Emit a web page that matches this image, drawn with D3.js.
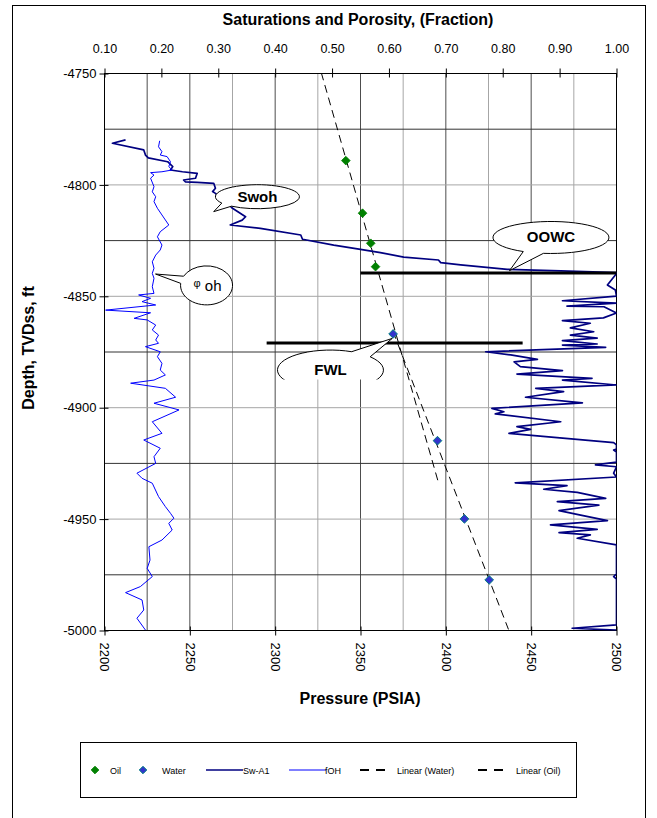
<!DOCTYPE html>
<html>
<head>
<meta charset="utf-8">
<script src="https://cdn.jsdelivr.net/npm/d3@7"></script>
<style>
  body { margin: 0; background: #fff; }
  text { font-family: "Liberation Sans", Arial, sans-serif; }
</style>
</head>
<body>
<svg id="chart" width="657" height="818"></svg>
<script>
// ---- data ----
var oilPressure = [2341.4, 2351.2, 2356.0, 2358.8];
var oilDepth    = [-4789.1, -4812.7, -4826.2, -4836.7];
var waterPressure = [2369.1, 2395.1, 2410.9, 2425.4];
var waterDepth    = [-4866.9, -4914.8, -4949.9, -4977.3];

// pressure span over which Excel drew each linear trendline
var oilTrendRange   = [2327, 2395.3];
var waterTrendRange = [2369, 2436.7];

// Sw-A1 log (fraction, top axis)
var swDepth = [-4779.8,-4781.3,-4784.3,-4786.6,-4787.9,-4789.6,-4791.8,-4793.3,-4794.1,-4794.8,-4797.0,-4797.8,-4798.6,-4798.9,-4799.3,-4801.5,-4803.0,-4803.8,-4805.9,-4808.6,-4810.5,-4814.3,-4815.8,-4818.0,-4819.5,-4822.5,-4824.4,-4827.0,-4828.9,-4830.4,-4832.4,-4833.7,-4834.9,-4835.9,-4837.9,-4838.6,-4839.4,
  -4840.4,-4844.9,-4847.2,-4849.9,-4852.0,-4853.1,-4854.4,-4854.7,-4857.5,-4859.7,-4860.9,-4862.1,-4864.2,-4865.9,-4867.4,-4868.8,-4869.9,-4871.4,-4871.9,-4872.9,-4874.9,-4876.3,-4878.3,-4879.4,-4881.6,-4883.4,-4884.9,-4886.8,-4887.6,-4889.8,-4891.3,-4892.8,-4895.3,-4897.8,-4900.3,-4901.8,-4902.8,-4906.3,-4908.5,-4909.7,-4911.5,-4915.7,-4916.7,-4918.5,-4919.0,-4919.9,-4924.4,-4925.7,-4926.5,-4929.4,-4931.1,-4933.7,-4935.0,-4936.6,-4938.0,-4940.7,-4942.2,-4943.7,-4946.2,-4948.2,-4950.7,-4952.6,-4954.6,-4956.1,-4957.1,-4958.6,-4961.6,-4974.6,-4975.8,-4976.9,-4997.5,-4999.0,-4999.8];
var swValue = [0.137,0.114,0.169,0.172,0.177,0.211,0.220,0.216,0.237,0.263,0.260,0.239,0.242,0.263,0.292,0.295,0.290,0.295,0.304,0.318,0.325,0.348,0.342,0.321,0.374,0.445,0.448,0.503,0.550,0.585,0.626,0.687,0.691,0.726,0.808,0.902,1.0,
  0.998,0.984,0.998,1.0,0.905,1.0,0.913,0.978,1.0,0.977,0.905,0.954,0.919,0.960,0.919,0.966,0.905,0.966,0.905,0.981,0.770,0.814,0.861,0.820,0.831,0.905,0.825,0.957,0.905,1.0,0.858,0.907,0.840,0.940,0.781,0.802,0.787,0.902,0.825,0.849,0.811,0.995,1.0,1.0,0.995,1.0,1.0,0.963,1.0,0.995,1.0,0.822,0.913,0.872,0.931,0.981,0.896,0.969,0.899,0.937,0.984,0.884,0.966,0.899,0.954,0.931,1.0,1.0,0.995,1.0,1.0,0.922,1.0];

// porosity log fOH (fraction, top axis)
var phiDepth = [-4780.2,-4782.9,-4785.1,-4786.6,-4787.3,-4789.6,-4791.8,-4793.3,-4794.1,-4794.5,-4795.6,-4797.0,-4800.8,-4803.1,-4805.3,-4807.5,-4810.5,-4813.5,-4818.0,-4821.0,-4823.3,-4827.0,-4829.2,-4831.5,-4834.5,-4837.4,-4839.7,-4841.9,-4845.7,-4848.7,-4849.4,-4850.9,-4852.4,-4853.9,-4856.2,-4857.4,-4859.9,-4860.6,-4862.9,-4865.1,-4867.4,-4869.6,-4871.1,-4872.6,-4874.9,-4877.1,-4880.1,-4883.1,-4885.3,-4887.6,-4889.0,-4891.3,-4895.3,-4898.0,-4901.0,-4906.3,-4911.5,-4914.5,-4918.2,-4922.0,-4925.0,-4929.4,-4931.7,-4933.9,-4939.9,-4944.4,-4947.4,-4949.6,-4951.9,-4954.9,-4959.4,-4962.4,-4968.4,-4972.1,-4975.8,-4980.3,-4983.0,-4986.3,-4990.8,-4994.5,-4999.8];
var phiValue = [0.197,0.195,0.201,0.198,0.210,0.216,0.213,0.219,0.201,0.181,0.187,0.181,0.187,0.184,0.190,0.187,0.193,0.201,0.213,0.198,0.193,0.201,0.198,0.190,0.184,0.187,0.184,0.187,0.184,0.187,0.160,0.181,0.166,0.190,0.102,0.181,0.152,0.175,0.190,0.184,0.195,0.190,0.195,0.172,0.198,0.193,0.201,0.198,0.207,0.187,0.146,0.207,0.225,0.187,0.231,0.184,0.201,0.169,0.198,0.187,0.190,0.157,0.166,0.184,0.195,0.207,0.216,0.222,0.213,0.219,0.201,0.178,0.180,0.175,0.184,0.163,0.137,0.166,0.169,0.157,0.172];

// fluid contacts (depth, pressure span of the drawn bar)
var contactNames  = ["OOWC", "FWL"];
var contactDepth  = [-4839.5, -4871];
var contactRanges = [[2350, 2500], [2295, 2445]];

// callout anchors: centre and pointer tip (pressure, depth)
var calloutLabels  = ["Swoh", "oh", "OOWC", "FWL"];
var calloutCentre  = [[2289.6, -4805.3], [2259.8, -4845.1], [2461.6, -4823.6], [2332.4, -4883.1]];
var calloutTip     = [[2264.0, -4812.0], [2229.9, -4840.0], [2437.3, -4838.5], [2368.6, -4868.9]];

// axes
var depthTicks    = [-4750, -4800, -4850, -4900, -4950, -5000];
var pressureTicks = [2200, 2250, 2300, 2350, 2400, 2450, 2500];
var fractionTicks = [0.10, 0.20, 0.30, 0.40, 0.50, 0.60, 0.70, 0.80, 0.90, 1.00];
var pressureGridMajor = [2225, 2250, 2300, 2350, 2400, 2450];
var pressureGridMinor = [2275, 2325, 2375, 2425, 2475];
var depthGridDark  = [-4775, -4825, -4875, -4925, -4975];
var depthGridLight = [-4800, -4850, -4900, -4950];

var legendLabels = ["Oil", "Water", "Sw-A1", "fOH", "Linear (Water)", "Linear (Oil)"];

// ---- drawing ----
var svg = d3.select("#chart");
var pL = 104.5, pR = 616.5, pT = 73.5, pB = 630.5;

var xP = d3.scaleLinear().domain([2200, 2500]).range([pL, pR]);
var xF = d3.scaleLinear().domain([0.1, 1.0]).range([pL, pR]);
var y  = d3.scaleLinear().domain([-4750, -5000]).range([pT, pB]);

svg.append("rect").attr("width", 657).attr("height", 818).attr("fill", "#fff");
// outer chart frame
svg.append("rect").attr("x", 12.5).attr("y", 5.5).attr("width", 633).attr("height", 830)
  .attr("fill", "none").attr("stroke", "#000");

svg.append("clipPath").attr("id", "plotclip").append("rect")
  .attr("x", pL).attr("y", pT).attr("width", pR - pL).attr("height", pB - pT);

var grid = svg.append("g");
grid.selectAll(".vmin").data(pressureGridMinor).enter().append("line")
  .attr("x1", d => xP(d)).attr("x2", d => xP(d)).attr("y1", pT).attr("y2", pB)
  .attr("stroke", "#a6a6a6");
grid.selectAll(".vmaj").data(pressureGridMajor).enter().append("line")
  .attr("x1", d => xP(d)).attr("x2", d => xP(d)).attr("y1", pT).attr("y2", pB)
  .attr("stroke", "#4d4d4d");
grid.selectAll(".hl").data(depthGridLight).enter().append("line")
  .attr("x1", pL).attr("x2", pR).attr("y1", d => y(d)).attr("y2", d => y(d))
  .attr("stroke", "#a6a6a6");
grid.selectAll(".hd").data(depthGridDark).enter().append("line")
  .attr("x1", pL).attr("x2", pR).attr("y1", d => y(d)).attr("y2", d => y(d))
  .attr("stroke", "#333");

svg.append("rect").attr("x", pL).attr("y", pT).attr("width", pR - pL).attr("height", pB - pT)
  .attr("fill", "none").attr("stroke", "#000");

var plot = svg.append("g").attr("clip-path", "url(#plotclip)");

// linear trendlines (least squares of depth on pressure)
function fit(xs, ys) {
  var mx = d3.mean(xs), my = d3.mean(ys);
  var sxy = d3.sum(xs, (v, i) => (v - mx) * (ys[i] - my));
  var sxx = d3.sum(xs, v => (v - mx) * (v - mx));
  var b = sxy / sxx;
  return p => my + b * (p - mx);
}
var trends = [[oilPressure, oilDepth, oilTrendRange], [waterPressure, waterDepth, waterTrendRange]];
trends.forEach(function (t) {
  var f = fit(t[0], t[1]);
  plot.append("line")
    .attr("x1", xP(t[2][0])).attr("y1", y(f(t[2][0])))
    .attr("x2", xP(t[2][1])).attr("y2", y(f(t[2][1])))
    .attr("stroke", "#000").attr("stroke-width", 1).attr("stroke-dasharray", "8,5");
});

var swData = swDepth.map((d, i) => ({depth: d, v: swValue[i]}));
var phiData = phiDepth.map((d, i) => ({depth: d, v: phiValue[i]}));
var logLine = d3.line().x(d => xF(d.v)).y(d => y(d.depth));

plot.append("path").datum(swData).attr("d", logLine)
  .attr("fill", "none").attr("stroke", "#000080").attr("stroke-width", 1.7).attr("stroke-linejoin", "round");
plot.append("path").datum(phiData).attr("d", logLine)
  .attr("fill", "none").attr("stroke", "#0000ff").attr("stroke-width", 1);

// contact bars
contactNames.forEach(function (n, i) {
  plot.append("line")
    .attr("x1", xP(contactRanges[i][0])).attr("x2", xP(contactRanges[i][1]))
    .attr("y1", y(contactDepth[i])).attr("y2", y(contactDepth[i]))
    .attr("stroke", "#000").attr("stroke-width", 3);
});

// pressure points
var diamond = d3.symbol().type(d3.symbolDiamond2 || d3.symbolSquare).size(48);
plot.selectAll(".oil").data(oilPressure).enter().append("path")
  .attr("d", diamond)
  .attr("transform", (d, i) => "translate(" + xP(d) + "," + y(oilDepth[i]) + ")")
  .attr("fill", "#008000").attr("stroke", "#008000").attr("stroke-width", 0.8);
plot.selectAll(".water").data(waterPressure).enter().append("path")
  .attr("d", diamond)
  .attr("transform", (d, i) => "translate(" + xP(d) + "," + y(waterDepth[i]) + ")")
  .attr("fill", "#3333cc").attr("stroke", "#008080").attr("stroke-width", 1);

// callouts
var calloutShape = [
  {rx: 42, ry: 12, tail: 138, gap: 20},
  {rx: 26, ry: 19.5, tail: 197, gap: 22},
  {rx: 58, ry: 16, tail: 108, gap: 21},
  {rx: 53, ry: 20, tail: -54, gap: 25}
];
function calloutPath(cx, cy, s, tx, ty) {
  var a1 = (s.tail + s.gap / 2) * Math.PI / 180;
  var a2 = (s.tail - s.gap / 2 + 360) * Math.PI / 180;
  var p1 = [cx + s.rx * Math.cos(a1), cy + s.ry * Math.sin(a1)];
  var p2 = [cx + s.rx * Math.cos(a2), cy + s.ry * Math.sin(a2)];
  return "M" + p1 + "A" + s.rx + "," + s.ry + " 0 1 1 " + p2 + "L" + tx + "," + ty + "Z";
}
// FWL bubble is cut off below
svg.append("clipPath").attr("id", "fwlclip").append("rect")
  .attr("x", 0).attr("y", 0).attr("width", 657).attr("height", y(calloutCentre[3][1]) + 9.5);

calloutLabels.forEach(function (lab, i) {
  var cx = xP(calloutCentre[i][0]), cy = y(calloutCentre[i][1]);
  var g = svg.append("g");
  if (lab == "FWL") g.attr("clip-path", "url(#fwlclip)");
  g.append("path")
    .attr("d", calloutPath(cx, cy, calloutShape[i], xP(calloutTip[i][0]), y(calloutTip[i][1])))
    .attr("fill", "#fff").attr("stroke", "#000").attr("stroke-width", 1);
  if (lab == "oh") {
    var t = g.append("text").attr("x", cx + 1).attr("y", cy + 6).attr("text-anchor", "middle");
    t.append("tspan").attr("font-size", 11).attr("dy", -4).text("\u03c6");
    t.append("tspan").attr("font-size", 15).attr("dy", 4).text(" oh");
  } else {
    g.append("text").attr("x", cx).attr("y", cy + 5).attr("text-anchor", "middle")
      .attr("font-size", 15).attr("font-weight", "bold").text(lab);
  }
});

// axes
var axisLeft = svg.append("g").attr("transform", "translate(" + pL + ",0)")
  .call(d3.axisLeft(y).tickValues(depthTicks).tickSize(5).tickPadding(3).tickFormat(d => String(d)));
var axisTop = svg.append("g").attr("transform", "translate(0," + pT + ")")
  .call(d3.axisTop(xF).tickValues(fractionTicks).tickSize(5).tickPadding(16).tickFormat(d3.format(".2f")));
var axisBottom = svg.append("g").attr("transform", "translate(0," + pB + ")")
  .call(d3.axisBottom(xP).tickValues(pressureTicks).tickSize(5).tickFormat(d => String(d)));

[axisLeft, axisTop, axisBottom].forEach(function (a) {
  a.attr("font-family", null).attr("font-size", 13);
  a.select(".domain").remove();
  a.selectAll(".tick line").attr("stroke", "#000");
  a.selectAll(".tick text").attr("fill", "#000");
});
axisLeft.selectAll(".tick line").attr("x1", 4);
axisTop.selectAll(".tick line").attr("y1", 4);
axisTop.attr("font-size", 12.5);
axisBottom.selectAll(".tick line").attr("y1", -4);
axisBottom.selectAll(".tick text")
  .attr("transform", "rotate(90)").attr("text-anchor", "start")
  .attr("x", 12).attr("y", 0).attr("dy", "0.35em");

// titles
svg.append("text").attr("x", 358).attr("y", 25).attr("text-anchor", "middle")
  .attr("font-size", 16).attr("font-weight", "bold").text("Saturations and Porosity, (Fraction)");
svg.append("text").attr("transform", "translate(34,348) rotate(-90)").attr("text-anchor", "middle")
  .attr("font-size", 16).attr("font-weight", "bold").text("Depth, TVDss, ft");
svg.append("text").attr("x", 360).attr("y", 704).attr("text-anchor", "middle")
  .attr("font-size", 16).attr("font-weight", "bold").text("Pressure (PSIA)");

// legend
var lg = svg.append("g");
lg.append("rect").attr("x", 80.5).attr("y", 742.5).attr("width", 496).attr("height", 55)
  .attr("fill", "#fff").attr("stroke", "#000");
var legendKeyX  = [95, 143, 206, 289, 360, 478];
var legendTextX = [110, 162, 243, 325, 397, 516];
var ly = 770;
legendLabels.forEach(function (lab, i) {
  var kx = legendKeyX[i];
  if (i == 0 || i == 1) {
    lg.append("path").attr("d", d3.symbol().type(d3.symbolDiamond2 || d3.symbolSquare).size(36))
      .attr("transform", "translate(" + kx + "," + ly + ")")
      .attr("fill", i == 0 ? "#008000" : "#3333cc").attr("stroke", i == 0 ? "#008000" : "#008080");
  } else if (i == 2 || i == 3) {
    lg.append("line").attr("x1", kx).attr("x2", kx + 37).attr("y1", ly).attr("y2", ly)
      .attr("stroke", i == 2 ? "#000080" : "#0000ff").attr("stroke-width", i == 2 ? 1.6 : 1);
  } else {
    lg.append("line").attr("x1", kx).attr("x2", kx + 28).attr("y1", ly).attr("y2", ly)
      .attr("stroke", "#000").attr("stroke-width", 2).attr("stroke-dasharray", "9,7");
  }
  lg.append("text").attr("x", legendTextX[i]).attr("y", ly + 3.5).attr("font-size", 9).text(lab);
});
</script>
</body>
</html>
